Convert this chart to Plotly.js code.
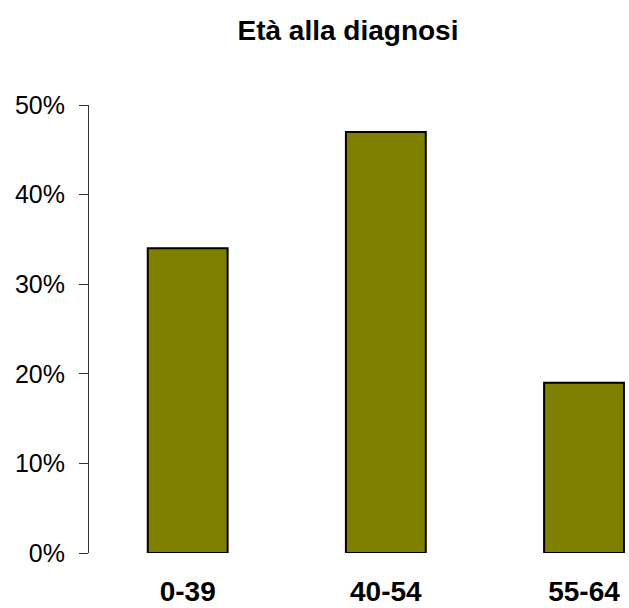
<!DOCTYPE html>
<html>
<head>
<meta charset="utf-8">
<script src="https://cdn.plot.ly/plotly-3.0.1.min.js"></script>
<style>html,body{margin:0;padding:0;background:#fff;}#chart{width:629px;height:608px;}</style>
</head>
<body>
<div id="chart"></div>
<script>
const categories = ["0-39", "40-54", "55-64"];
const values = [34, 47, 19];
const yTickValues = [0, 10, 20, 30, 40, 50];
const yTickLabels = ["0%", "10%", "20%", "30%", "40%", "50%"];
const chartTitle = "Età alla diagnosi";

const trace = {
  type: "bar",
  x: [0, 1, 2],
  y: values,
  width: 0.403,
  marker: {color: "#808000", line: {color: "#000000", width: 2}},
  hoverinfo: "skip"
};

const layout = {
  width: 629,
  height: 608,
  margin: {l: 89, r: 0, t: 105, b: 55},
  paper_bgcolor: "#ffffff",
  plot_bgcolor: "#ffffff",
  showlegend: false,
  font: {family: "Liberation Sans, Arial, sans-serif", color: "#000000"},
  title: {
    text: "<b>" + chartTitle + "</b>",
    font: {size: 28, color: "#000000", family: "Liberation Sans, Arial, sans-serif"},
    x: 348 / 629, xref: "container", xanchor: "center",
    y: 1 - 30 / 608, yref: "container", yanchor: "middle"
  },
  xaxis: {
    range: [-0.498, 2.227],
    tickmode: "array",
    tickvals: [0, 1, 2],
    ticktext: categories.map(c => "<b>" + c + "</b>"),
    ticks: "",
    showline: false,
    showgrid: false,
    zeroline: false,
    tickfont: {size: 28, color: "#000000"},
    ticklabelstandoff: 19,
    fixedrange: true
  },
  yaxis: {
    range: [0, 50],
    tickmode: "array",
    tickvals: yTickValues,
    ticktext: yTickLabels,
    ticks: "outside",
    ticklen: 9,
    tickwidth: 1,
    tickcolor: "#333333",
    showline: true,
    linecolor: "#333333",
    linewidth: 1,
    showgrid: false,
    zeroline: false,
    tickfont: {size: 25, color: "#000000"},
    ticklabelstandoff: 9,
    fixedrange: true
  }
};

Plotly.newPlot("chart", [trace], layout, {displayModeBar: false, staticPlot: true});
</script>
</body>
</html>
